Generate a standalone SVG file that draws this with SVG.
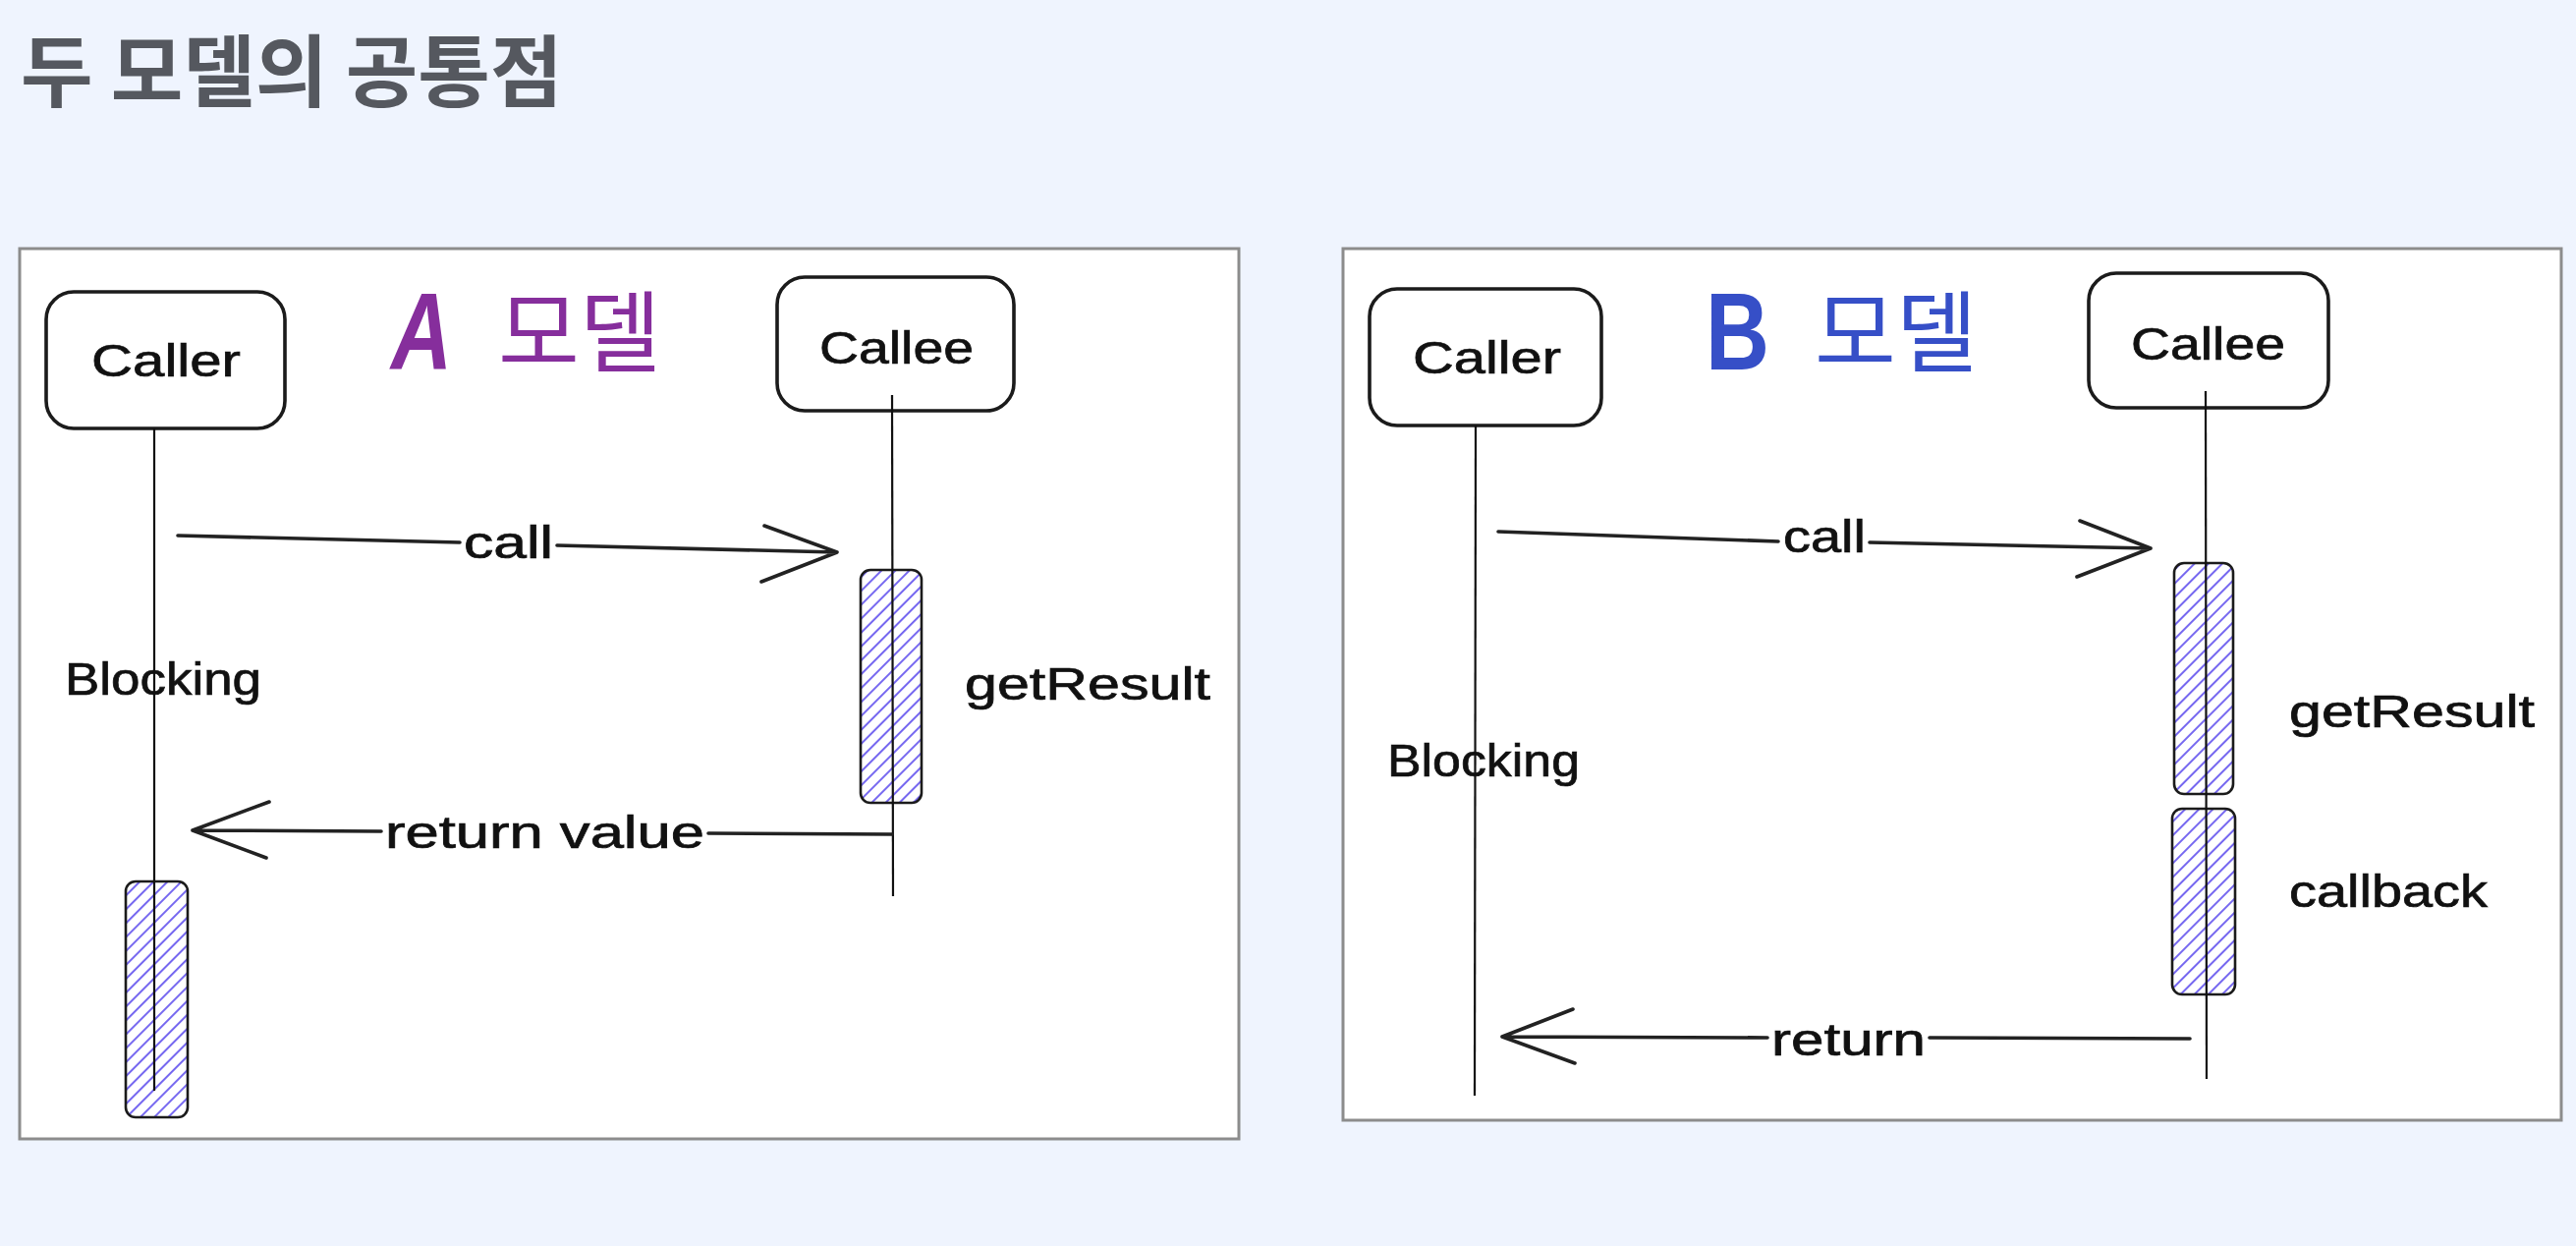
<svg xmlns="http://www.w3.org/2000/svg" width="2622" height="1268" viewBox="0 0 2622 1268">
<defs>
<pattern id="hatch" patternUnits="userSpaceOnUse" width="10" height="10" patternTransform="rotate(45)">
<line x1="5" y1="0" x2="5" y2="10" stroke="#7668f0" stroke-width="2"/>
</pattern>
<style>
.panel{fill:#ffffff;stroke:#8c8c8c;stroke-width:3}
.box{fill:#ffffff;stroke:#1b1b1b;stroke-width:3.6}
.act{fill:url(#hatch);stroke:#1b1b1b;stroke-width:2.6}
.life{stroke:#111;stroke-width:2.2;fill:none}
.arrow{stroke:#222;stroke-width:3.6;fill:none;stroke-linecap:round;stroke-linejoin:round}
.hand{font-family:"Liberation Sans",sans-serif;font-size:46px;fill:#111;stroke:#111;stroke-width:0.7}
.title{font-family:"Noto Sans CJK KR","Noto Sans",sans-serif;font-weight:700;font-size:80px;fill:#55585f}
.model{font-family:"Noto Sans CJK KR","Noto Sans",sans-serif;font-size:90px}
.letter{font-family:"Liberation Sans",sans-serif;font-weight:700;font-size:112px}
</style>
</defs>
<rect x="0" y="0" width="2622" height="1268" fill="#eff4fe"/>
<text class="title" x="21" y="102">두 모델의 공통점</text>

<g id="panel-a">
<rect class="panel" x="20" y="253" width="1241" height="906"/>
<text class="letter" x="398" y="376" fill="#862e9c" font-style="italic" textLength="62" lengthAdjust="spacingAndGlyphs">A</text>
<text class="model" x="507" y="371" fill="#862e9c">모델</text>
</g>
<g id="panel-b">
<rect class="panel" x="1367" y="253" width="1240" height="887"/>
<text class="letter" x="1736" y="376" fill="#364fc7" textLength="65" lengthAdjust="spacingAndGlyphs">B</text>
<text class="model" x="1847" y="371" fill="#364fc7">모델</text>
</g>

<g id="a-caller">
<rect class="box" x="47" y="297" width="243" height="139" rx="28"/>
<text class="hand" x="93" y="383" textLength="152" lengthAdjust="spacingAndGlyphs">Caller</text>
</g>
<g id="a-callee">
<rect class="box" x="791" y="282" width="241" height="136" rx="28"/>
<text class="hand" x="834" y="370" textLength="157" lengthAdjust="spacingAndGlyphs">Callee</text>
</g>
<g id="a-getresult">
<rect class="act" x="876" y="580" width="62" height="237" rx="10"/>
<text class="hand" x="982" y="712" textLength="250" lengthAdjust="spacingAndGlyphs">getResult</text>
</g>
<g id="a-caller-activation">
<rect class="act" x="128" y="897" width="63" height="240" rx="10"/>
</g>
<g id="a-blocking">
<text class="hand" x="66" y="707" textLength="200" lengthAdjust="spacingAndGlyphs">Blocking</text>
</g>

<g id="b-caller">
<rect class="box" x="1394" y="294" width="236" height="139" rx="28"/>
<text class="hand" x="1438" y="380" textLength="151" lengthAdjust="spacingAndGlyphs">Caller</text>
</g>
<g id="b-callee">
<rect class="box" x="2126" y="278" width="244" height="137" rx="28"/>
<text class="hand" x="2169" y="366" textLength="157" lengthAdjust="spacingAndGlyphs">Callee</text>
</g>
<g id="b-getresult">
<rect class="act" x="2213" y="573" width="60" height="235" rx="10"/>
<text class="hand" x="2330" y="740" textLength="250" lengthAdjust="spacingAndGlyphs">getResult</text>
</g>
<g id="b-callback">
<rect class="act" x="2211" y="823" width="64" height="189" rx="10"/>
<text class="hand" x="2330" y="923" textLength="202" lengthAdjust="spacingAndGlyphs">callback</text>
</g>
<g id="b-blocking">
<text class="hand" x="1412" y="790" textLength="196" lengthAdjust="spacingAndGlyphs">Blocking</text>
</g>

<g id="connectors">
<path class="life" d="M157 436 L157 1110"/>
<path class="life" d="M908 402 L909 912"/>
<path class="life" d="M1502 433 L1501 1115"/>
<path class="life" d="M2245 398 L2246 1098"/>

<path class="arrow" d="M181 545 L468 552 M567 555 L852 562 M778 535 L852 562 L775 592"/>
<text class="hand" x="472" y="568" textLength="91" lengthAdjust="spacingAndGlyphs">call</text>

<path class="arrow" d="M908 849 L721 848 M388 846 L196 845 M274 816 L196 845 L271 873"/>
<text class="hand" x="392" y="863" textLength="325" lengthAdjust="spacingAndGlyphs">return value</text>

<path class="arrow" d="M1525 541 L1810 551 M1903 552 L2189 558 M2117 530 L2189 558 L2114 587"/>
<text class="hand" x="1815" y="562" textLength="84" lengthAdjust="spacingAndGlyphs">call</text>

<path class="arrow" d="M2229 1057 L1964 1056 M1799 1056 L1529 1055 M1601 1027 L1529 1055 L1603 1082"/>
<text class="hand" x="1803" y="1074" textLength="157" lengthAdjust="spacingAndGlyphs">return</text>
</g>
</svg>
